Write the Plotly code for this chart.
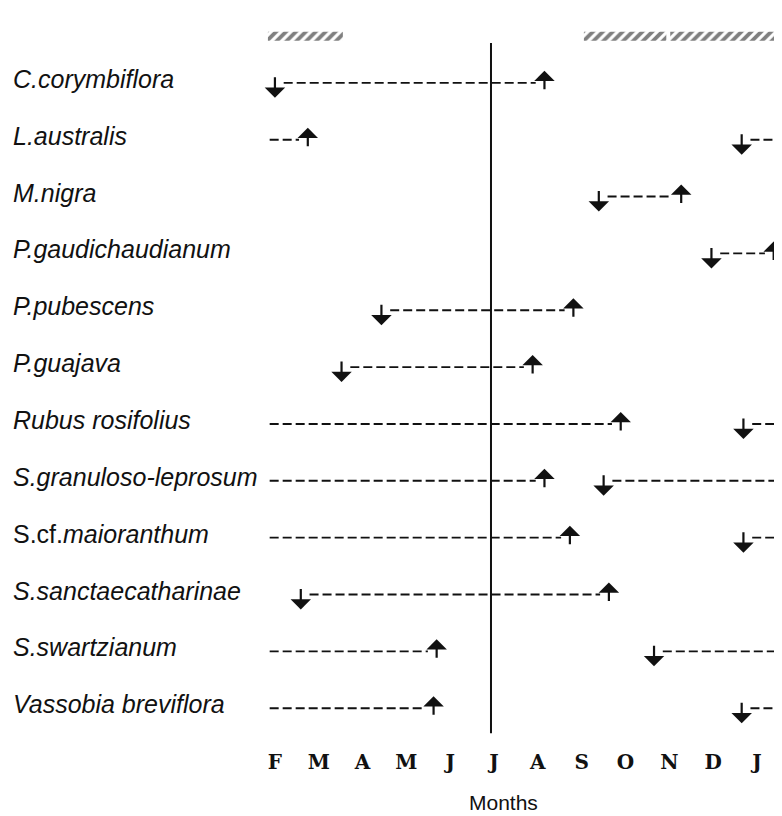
import plotly.graph_objects as go

# ---- data (month index: F=0 ... J=11) ----
species = ["C.corymbiflora", "L.australis", "M.nigra", "P.gaudichaudianum",
           "P.pubescens", "P.guajava", "Rubus rosifolius", "S.granuloso-leprosum",
           "S.cf.<i>maioranthum</i>", "S.sanctaecatharinae", "S.swartzianum",
           "Vassobia breviflora"]
italic_full = [True, True, True, True, True, True, True, True, False, True, True, True]
onset = [0.0, 10.65, 7.39, 9.96, 2.43, 1.52, 10.69, 7.5, 10.69, 0.59, 8.65, 10.65]   # down arrows
offset = [6.15, 0.75, 9.27, 11.38, 6.81, 5.88, 7.89, 6.15, 6.73, 7.62, 3.69, 3.62]   # up arrows
month_labels = ["F", "M", "A", "M", "J", "J", "A", "S", "O", "N", "D", "J"]
hatch_start = [-0.16, 7.05, 9.02]
hatch_end = [1.55, 8.93, 11.52]
divider_month = 4.93

# ---- styling constants ----
X_MIN, X_MAX = -0.295, 11.57
LINE_LEFT, LINE_RIGHT = -0.12, 11.6
GAP = 0.2
BLACK = "#111111"

fig = go.Figure()

for i, (s, e) in enumerate(zip(onset, offset)):
    if s < e:
        segs = [(s + GAP, e - GAP)]
    else:
        segs = [(LINE_LEFT, e - GAP), (s + GAP, LINE_RIGHT)]
    for a, b in segs:
        fig.add_trace(go.Scatter(x=[a, b], y=[i, i], mode="lines",
                                 line=dict(color=BLACK, width=1.9, dash="9px,4px"),
                                 hoverinfo="skip", showlegend=False))
    # down arrow at onset
    fig.add_annotation(x=s, y=i, text="", showarrow=True, ax=0, ay=-22,
                       axref="pixel", ayref="pixel", yshift=-15,
                       arrowhead=1, arrowsize=1.55, arrowwidth=2.2, arrowcolor=BLACK,
                       standoff=0, startstandoff=0)
    # up arrow at offset
    fig.add_annotation(x=e, y=i, text="", showarrow=True, ax=0, ay=20,
                       axref="pixel", ayref="pixel", yshift=12,
                       arrowhead=1, arrowsize=1.55, arrowwidth=2.2, arrowcolor=BLACK,
                       standoff=0, startstandoff=0)

# hatched periods
fig.add_trace(go.Bar(orientation="h", y=[-0.82] * len(hatch_start),
                     x=[b - a for a, b in zip(hatch_start, hatch_end)], base=hatch_start,
                     width=0.16,
                     marker=dict(color="white", line=dict(width=0),
                                 pattern=dict(shape="/", fgcolor="#000000", bgcolor="white",
                                              size=7, solidity=0.55)),
                     hoverinfo="skip", showlegend=False))

# vertical divider
fig.add_shape(type="line", x0=divider_month, x1=divider_month, y0=-0.70, y1=11.44,
              xref="x", yref="y", line=dict(color=BLACK, width=2))

# species labels
for i, (name, it) in enumerate(zip(species, italic_full)):
    txt = f"<i>{name}</i>" if it else name
    fig.add_annotation(x=-0.4827, xref="paper", y=i, yref="y", text=txt,
                       showarrow=False, xanchor="left", yanchor="middle", yshift=4,
                       font=dict(family="Liberation Sans, Arial", size=25, color="#111"))

fig.add_annotation(x=0.465, xref="paper", y=-0.0748, yref="paper", text="Months",
                   showarrow=False, xanchor="center", yanchor="middle",
                   font=dict(family="Liberation Sans, Arial", size=21, color="#111"))

fig.update_layout(
    width=774, height=808,
    margin=dict(l=254, r=0, t=18, b=68),
    paper_bgcolor="white", plot_bgcolor="white",
    barmode="overlay",
    xaxis=dict(range=[X_MIN, X_MAX], tickvals=list(range(12)), ticktext=month_labels,
               showgrid=False, zeroline=False, showline=False, ticks="",
               tickfont=dict(family="DejaVu Serif", size=20, color="#111", weight="bold")),
    yaxis=dict(range=[11.7, -1.0], showgrid=False, zeroline=False, showline=False,
               showticklabels=False, ticks=""),
)

fig.write_html("out.html")
